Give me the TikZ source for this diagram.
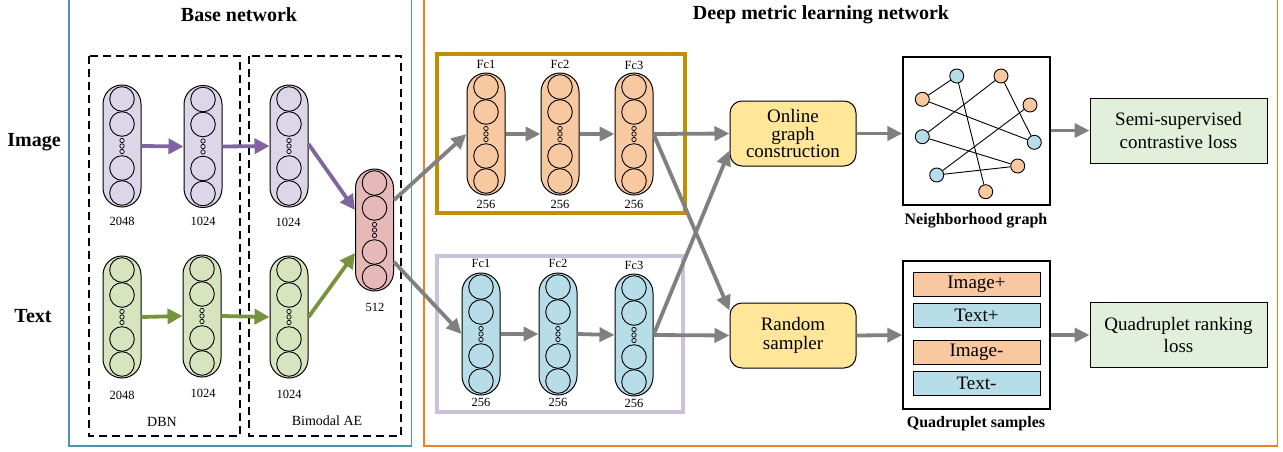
\documentclass[tikz,border=0pt]{standalone}
\usepackage{fontspec}
\setmainfont{Liberation Serif}
\usetikzlibrary{arrows.meta,calc}
\definecolor{bluebox}{HTML}{4F94AE}
\definecolor{orangebox}{HTML}{F07F2A}
\definecolor{purfill}{HTML}{DCD6E8}
\definecolor{grnfill}{HTML}{D8E4BE}
\definecolor{pinkfill}{HTML}{E6B9B8}
\definecolor{orfill}{HTML}{F8C9A0}
\definecolor{bluefill}{HTML}{B7DDE8}
\definecolor{yelfill}{HTML}{FFE699}
\definecolor{lgreen}{HTML}{E2EFDA}
\definecolor{goldbox}{HTML}{BF9000}
\definecolor{lavbox}{HTML}{CCC1DA}
\definecolor{purarrow}{HTML}{8064A2}
\definecolor{grnarrow}{HTML}{77933C}
\definecolor{grayarrow}{HTML}{808080}
\tikzset{
  layer/.style={draw, line width=1pt, minimum width=38pt, minimum height=122pt, rounded corners=19pt, inner sep=0pt},
  numlbl/.style={font=\fontsize{12.5}{14}\selectfont, inner sep=0pt},
  title/.style={font=\bfseries\fontsize{20}{24}\selectfont, inner sep=0pt},
  subttl/.style={font=\bfseries\fontsize{16}{19}\selectfont, inner sep=0pt},
  smalllbl/.style={font=\fontsize{14}{16}\selectfont, inner sep=0pt},
  procbox/.style={draw, line width=1pt, fill=yelfill, rounded corners=12pt, minimum width=126pt, minimum height=65pt, align=center, inner sep=0pt},
  lossbox/.style={draw, line width=1pt, fill=lgreen, minimum width=177pt, minimum height=65pt, align=center, inner sep=0pt},
  bigbox/.style={draw, line width=1.3pt, fill=white, minimum width=147pt, minimum height=148pt, inner sep=0pt},
  bar/.style={draw, line width=1pt, minimum width=127pt, minimum height=24pt, inner sep=0pt, font=\fontsize{19}{20}\selectfont},
  gnode/.style={circle, draw, line width=0.9pt, minimum size=14pt, inner sep=0pt},
  gedge/.style={line width=0.9pt},
  purarr/.style={draw=purarrow, line width=3.8pt, -{Triangle[length=15pt,width=15pt]}},
  grnarr/.style={draw=grnarrow, line width=3.8pt, -{Triangle[length=15pt,width=15pt]}},
  grayarr/.style={draw=grayarrow, line width=3.8pt, -{Triangle[length=15pt,width=14pt]}},
  dashbox/.style={line width=1.3pt, dash pattern=on 8pt off 5pt},
}
\newcommand{\nnlayer}[4]{%
  \node[layer, fill=#4] (#1) at (#2,#3) {};
  \foreach \dy in {-47,-22,22,47} \draw[line width=0.9pt] (#2,#3+\dy) circle (12.3pt);
  \foreach \dy in {-5.5,0,5.5} \draw[line width=0.7pt] (#2,#3+\dy) circle (2.2pt);
}
\begin{document}
\begin{tikzpicture}[x=1pt,y=-1pt]
\useasboundingbox (0,0) rectangle (1283,451);
\fill[white] (0,0) rectangle (1283,451);
% containers
\draw[bluebox, line width=1.3pt] (69,-2) rectangle (411.5,446);
\draw[orangebox, line width=1.5pt] (424,-2) rectangle (1277.5,446);
\draw[dashbox] (89,56) rectangle (240,436);
\draw[dashbox] (249,56) rectangle (401,436);
\draw[goldbox, line width=4pt] (437,54) rectangle (685,213);
\draw[lavbox, line width=3.5pt] (437,256) rectangle (683,412);
% titles
\node[title] (tbase) at (239,15) {Base network};
\node[title] (tdeep) at (821,15) {Deep metric learning network};
\node[title] (limg) at (34,142) {Image};
\node[title] (ltxt) at (33,316) {Text};
\node[smalllbl] (ldbn) at (162,422) {DBN};
\node[smalllbl] (lbae) at (327,421) {Bimodal AE};
% base network layers
\nnlayer{i1}{122}{146}{purfill}
\nnlayer{i2}{203}{146.5}{purfill}
\nnlayer{i3}{289}{146}{purfill}
\nnlayer{t1}{122}{317}{grnfill}
\nnlayer{t2}{202}{316}{grnfill}
\nnlayer{t3}{289}{317}{grnfill}
\nnlayer{m}{374.5}{230}{pinkfill}
\node[numlbl] (ni1) at (122,221) {2048};
\node[numlbl] (ni2) at (203,221) {1024};
\node[numlbl] (ni3) at (288,222) {1024};
\node[numlbl] (nt1) at (122,395) {2048};
\node[numlbl] (nt2) at (203,393) {1024};
\node[numlbl] (nt3) at (289,394) {1024};
\node[numlbl] (nm) at (375,307) {512};
% metric layers
\nnlayer{o1}{486}{134}{orfill}
\nnlayer{o2}{560}{134}{orfill}
\nnlayer{o3}{634}{134}{orfill}
\nnlayer{b1}{481}{334}{bluefill}
\nnlayer{b2}{558}{334}{bluefill}
\nnlayer{b3}{634}{335}{bluefill}
\node[numlbl] (fo1) at (486,64) {Fc1};
\node[numlbl] (fo2) at (560,64) {Fc2};
\node[numlbl] (fo3) at (634,65) {Fc3};
\node[numlbl] (so1) at (486,204) {256};
\node[numlbl] (so2) at (560,204) {256};
\node[numlbl] (so3) at (634,204) {256};
\node[numlbl] (fb1) at (481,263) {Fc1};
\node[numlbl] (fb2) at (558,263) {Fc2};
\node[numlbl] (fb3) at (634,265) {Fc3};
\node[numlbl] (sb1) at (481,402) {256};
\node[numlbl] (sb2) at (558,402) {256};
\node[numlbl] (sb3) at (634,403) {256};
% processing boxes
\node[procbox, font=\fontsize{19}{17.5}\selectfont] (og) at (793,133.5) {Online\\graph\\construction};
\node[procbox, font=\fontsize{19}{18.5}\selectfont] (rs) at (793,335.5) {Random\\sampler};
\node[bigbox] (gb) at (976.5,131) {};
\node[bigbox] (qb) at (976.5,335) {};
\node[subttl] (lgb) at (976,221) {Neighborhood graph};
\node[subttl] (lqb) at (976,424) {Quadruplet samples};
\node[lossbox, font=\fontsize{19}{23}\selectfont] (sc) at (1178.5,130.5) {Semi-supervised\\contrastive loss};
\node[lossbox, font=\fontsize{19}{22.5}\selectfont] (qr) at (1178.5,335) {Quadruplet ranking\\loss};
% quadruplet bars
\node[bar, fill=orfill] (q1) at (976.5,284) {Image+};
\node[bar, fill=bluefill] (q2) at (976.5,315) {Text+};
\node[bar, fill=orfill] (q3) at (976.5,352) {Image-};
\node[bar, fill=bluefill] (q4) at (976.5,383) {Text-};
% graph
\node[gnode, fill=bluefill] (gA) at (956.7,76) {};
\node[gnode, fill=orfill] (gB) at (922.3,99.3) {};
\node[gnode, fill=orfill] (gC) at (1001,76) {};
\node[gnode, fill=orfill] (gD) at (1030,105) {};
\node[gnode, fill=bluefill] (gE) at (922.3,136.7) {};
\node[gnode, fill=bluefill] (gF) at (1034.3,142.3) {};
\node[gnode, fill=orfill] (gG) at (1017.7,166) {};
\node[gnode, fill=bluefill] (gH) at (936.7,175) {};
\node[gnode, fill=orfill] (gI) at (985.7,191.7) {};
\draw[gedge] (gA) -- (gB);
\draw[gedge] (gA) -- (gI);
\draw[gedge] (gC) -- (gE);
\draw[gedge] (gC) -- (gF);
\draw[gedge] (gB) -- (gF);
\draw[gedge] (gD) -- (gH);
\draw[gedge] (gE) -- (gG);
\draw[gedge] (gH) -- (gG);
% arrows base
\draw[purarr] (i1.east) -- (i2.west);
\draw[purarr] (i2.east) -- (i3.west);
\draw[purarr] ($(i3.east)+(0,-2)$) -- ($(m.west)+(0,-20)$);
\draw[grnarr] (t1.east) -- (t2.west);
\draw[grnarr] (t2.east) -- (t3.west);
\draw[grnarr] (t3.east) -- ($(m.west)+(0,23)$);
\draw[grayarr] ($(m.east)+(0,-30)$) -- (o1.west);
\draw[grayarr] ($(m.east)+(0,32)$) -- (b1.west);
\draw[grayarr] (o1.east) -- (o2.west);
\draw[grayarr] (o2.east) -- (o3.west);
\draw[grayarr] (b1.east) -- (b2.west);
\draw[grayarr] (b2.east) -- (b3.west);
\draw[grayarr] (o3.east) -- (og.west);
\draw[grayarr] (o3.east) -- ($(rs.west)+(0,-25)$);
\draw[grayarr] (b3.east) -- (rs.west);
\draw[grayarr] (b3.east) -- ($(og.west)+(0,17)$);
\draw[grayarr] (og.east) -- (og.east -| gb.west);
\draw[grayarr] (gb.east |- sc.west) -- (sc.west);
\draw[grayarr] (rs.east) -- (qb.west);
\draw[grayarr] (qb.east) -- (qr.west);
\end{tikzpicture}
\end{document}
